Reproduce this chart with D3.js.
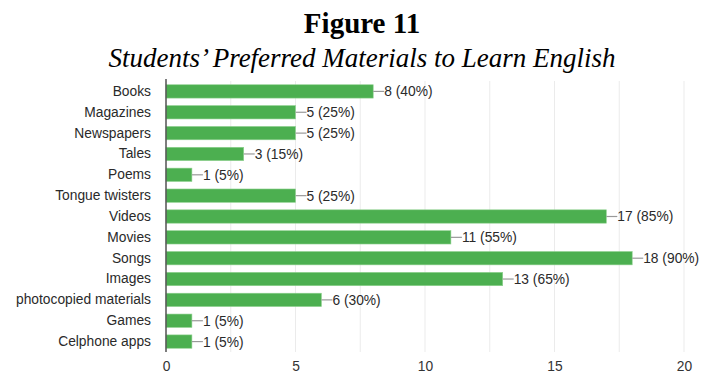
<!DOCTYPE html>
<html><head><meta charset="utf-8">
<script src="https://cdn.jsdelivr.net/npm/d3@7/dist/d3.min.js"></script>
<style>body{margin:0;background:#fff}svg{display:block}</style>
</head><body>
<svg id="c" width="704" height="375"></svg>
<script>
const categories = ["Books","Magazines","Newspapers","Tales","Poems","Tongue twisters","Videos","Movies","Songs","Images","photocopied materials","Games","Celphone apps"];
const counts = [8,5,5,3,1,5,17,11,18,13,6,1,1];
const percents = [40,25,25,15,5,25,85,55,90,65,30,5,5];
const xTicks = [0,5,10,15,20];
const gridTicks = [0,2.5,5,7.5,10,12.5,15,17.5,20];

(function(){
const svg = d3.select("#c");
const mLeft = 166, mRight = 684, mTop = 81, mBottom = 352;
const sans = "'Liberation Sans',Arial,sans-serif";

svg.append("text").attr("x",362).attr("y",33).attr("text-anchor","middle")
  .attr("font-family","'Liberation Serif',serif").attr("font-weight","bold").attr("font-size",29)
  .attr("fill","#000").text("Figure 11");
svg.append("text").attr("x",362).attr("y",67).attr("text-anchor","middle")
  .attr("font-family","'Liberation Serif',serif").attr("font-style","italic").attr("font-size",27)
  .attr("fill","#000").text("Students\u2019 Preferred Materials to Learn English");

const x = d3.scaleLinear().domain([0,20]).range([mLeft,mRight]);
const y = d3.scaleBand().domain(categories).range([mTop,mBottom]).paddingInner(0.36).paddingOuter(0.18);

svg.append("g").selectAll("line").data(gridTicks).join("line")
  .attr("x1",d=>x(d)).attr("x2",d=>x(d)).attr("y1",mTop).attr("y2",mBottom)
  .attr("stroke","#ebebeb").attr("stroke-width",1);

svg.append("g").selectAll("rect").data(categories).join("rect")
  .attr("x",x(0)).attr("y",d=>y(d)).attr("width",(d,i)=>x(counts[i])-x(0)).attr("height",y.bandwidth())
  .attr("fill","#4caf50").attr("stroke","#8fd18f").attr("stroke-width",0.6);

const lab = svg.append("g");
categories.forEach((c,i)=>{
  const cy = y(c)+y.bandwidth()/2;
  lab.append("line").attr("x1",x(counts[i])).attr("x2",x(counts[i])+11).attr("y1",cy).attr("y2",cy)
    .attr("stroke","#999").attr("stroke-width",1.2);
  lab.append("text").attr("x",x(counts[i])+11).attr("y",cy).attr("dy","0.36em")
    .attr("font-family",sans).attr("font-size",13.8).attr("fill","#2a2a2a")
    .text(`${counts[i]} (${percents[i]}%)`);
});

const ya = svg.append("g").attr("transform",`translate(${mLeft},0)`).call(d3.axisLeft(y).tickSize(0).tickPadding(15));
ya.select(".domain").remove();
ya.selectAll("text").attr("font-family",sans).attr("font-size",13.8).attr("fill","#2a2a2a");
svg.append("line").attr("x1",mLeft).attr("x2",mLeft).attr("y1",mTop-2).attr("y2",mBottom).attr("stroke","#555").attr("stroke-width",1.5);

const xa = svg.append("g").attr("transform",`translate(0,${mBottom})`).call(d3.axisBottom(x).tickValues(xTicks).tickSize(0).tickPadding(9));
xa.select(".domain").remove();
xa.selectAll("text").attr("font-family",sans).attr("font-size",13.8).attr("fill","#333");
})();
</script>
</body></html>
